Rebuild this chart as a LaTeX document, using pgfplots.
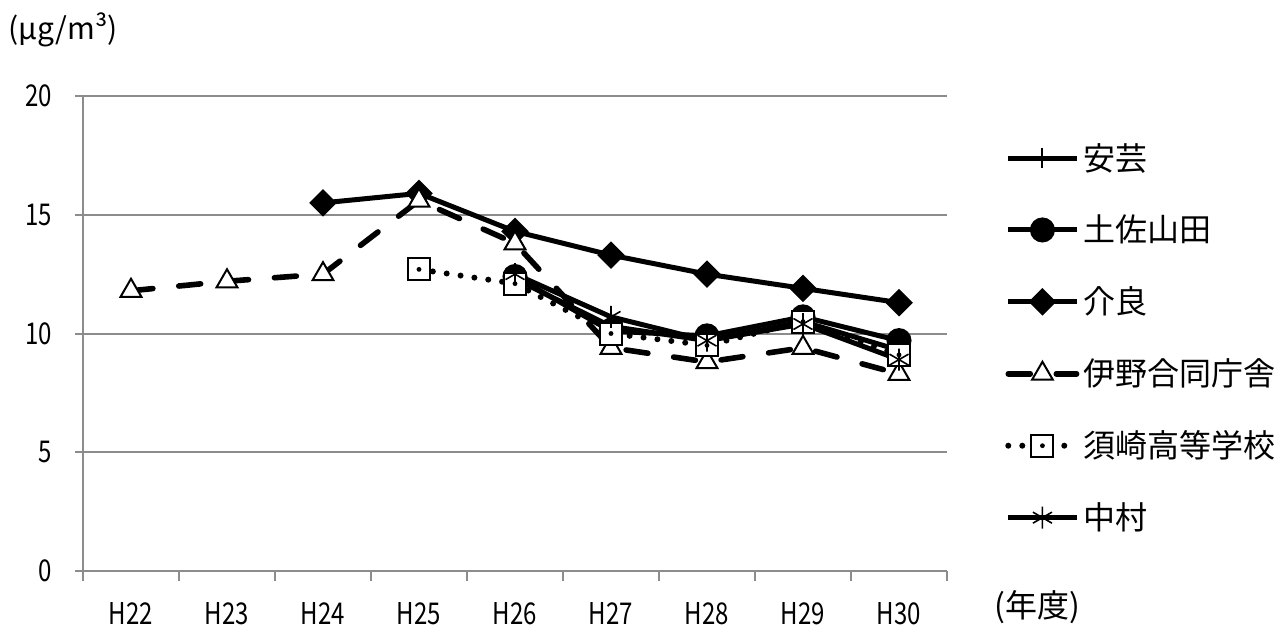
\documentclass[border=0pt]{standalone}
\usepackage{pgfplots}
\pgfplotsset{compat=1.18}
\usepackage{fontspec}
\setmainfont{Noto Sans CJK JP}
\usetikzlibrary{plotmarks}
\definecolor{axisgray}{RGB}{140,140,140}

% open square with a dot in the centre
\pgfdeclareplotmark{sqdot}{%
  \pgfpathrectangle{\pgfqpoint{-\pgfplotmarksize}{-\pgfplotmarksize}}%
                   {\pgfqpoint{2\pgfplotmarksize}{2\pgfplotmarksize}}%
  \pgfusepathqfillstroke
  \begin{pgfscope}%
    \pgfsetfillcolor{black}%
    \pgfpathcircle{\pgfpointorigin}{0.22\pgfplotmarksize}%
    \pgfusepathqfill
  \end{pgfscope}}

\newcommand{\cond}[1]{\scalebox{0.8}[1]{#1}}

\begin{document}
\begin{tikzpicture}
\useasboundingbox (0,0) rectangle (644pt,314.5pt);
\begin{axis}[
  at={(41.5pt,29pt)}, anchor=south west,
  scale only axis, width=432pt, height=237.5pt,
  xmin=-0.5, xmax=8.5, ymin=0, ymax=20,
  axis x line=bottom, axis y line=left,
  axis line style={axisgray, line width=1pt, -},
  xtick={0,...,8},
  xticklabels={\cond{H22},\cond{H23},\cond{H24},\cond{H25},\cond{H26},\cond{H27},\cond{H28},\cond{H29},\cond{H30}},
  major x tick style={draw=none},
  minor xtick={-0.5,0.5,...,8.5},
  minor tick length=5pt,
  minor x tick style={axisgray, line width=1pt},
  ytick={0,5,10,15,20},
  yticklabel={\cond{\pgfmathprintnumber{\tick}}},
  major tick length=4pt,
  tick align=outside,
  major y tick style={axisgray, line width=1pt},
  ymajorgrids, grid style={axisgray, line width=1pt},
  tick label style={font=\fontsize{15}{15}\selectfont, black},
  yticklabel style={xshift=-8pt},
  xticklabel style={yshift=-8pt},
  /pgf/number format/assume math mode=true,
  clip=false,
  legend style={draw=none, fill=none, at={(1.067,0.91)}, anchor=north west,
    font=\fontsize{16}{16}\selectfont, row sep=17pt, inner sep=0pt,
    legend cell align=left},
  legend image code/.code={%
    \draw[mark repeat=2, mark phase=2] plot coordinates {(0cm,0cm) (0.6cm,0cm) (1.2cm,0cm)};},
  every axis plot/.append style={black, line width=2.5pt},
]
% 安芸
\addplot[mark=+, mark size=5pt, mark options={line width=1pt}]
  coordinates {(4,12.3) (5,10.3) (6,9.7) (7,10.5) (8,9.3)};
\addlegendentry{安芸}
% 土佐山田
\addplot[mark=*, mark size=5pt, mark options={solid}]
  coordinates {(4,12.4) (5,10.1) (6,9.9) (7,10.7) (8,9.7)};
\addlegendentry{土佐山田}
% 介良
\addplot[mark=square*, mark size=4.4pt, mark options={rotate=45, solid, line width=1pt}]
  coordinates {(2,15.5) (3,15.9) (4,14.3) (5,13.3) (6,12.5) (7,11.9) (8,11.3)};
\addlegendentry{介良}
% 伊野合同庁舎
\addplot[line width=2.8pt, line cap=round, dash pattern=on 11pt off 13pt,
  mark=triangle*, mark size=6pt, mark options={solid, fill=white, line width=1pt}]
  coordinates {(0,11.8) (1,12.2) (2,12.5) (3,15.6) (4,13.8) (5,9.4) (6,8.8) (7,9.4) (8,8.3)};
\addlegendentry{伊野合同庁舎}
% 須崎高等学校
\addplot[line width=3pt, line cap=round, dash pattern=on 0pt off 7pt,
  mark=sqdot, mark size=5.5pt, mark options={solid, fill=white, line width=1pt}]
  coordinates {(3,12.7) (4,12.1) (5,10.0) (6,9.5) (7,10.5) (8,9.1)};
\addlegendentry{須崎高等学校}
% 中村
\addplot[mark=asterisk, mark size=5.5pt, mark options={solid, line width=0.8pt}]
  coordinates {(4,12.5) (5,10.7) (6,9.7) (7,10.4) (8,8.9)};
\addlegendentry{中村}
\end{axis}
\node[anchor=west, inner sep=0pt, font=\fontsize{15}{15}\selectfont] at (4pt,299.5pt) {(μg/m³)};
\node[anchor=west, inner sep=0pt, font=\fontsize{16}{16}\selectfont] at (497pt,11pt) {(年度)};
\end{tikzpicture}
\end{document}
